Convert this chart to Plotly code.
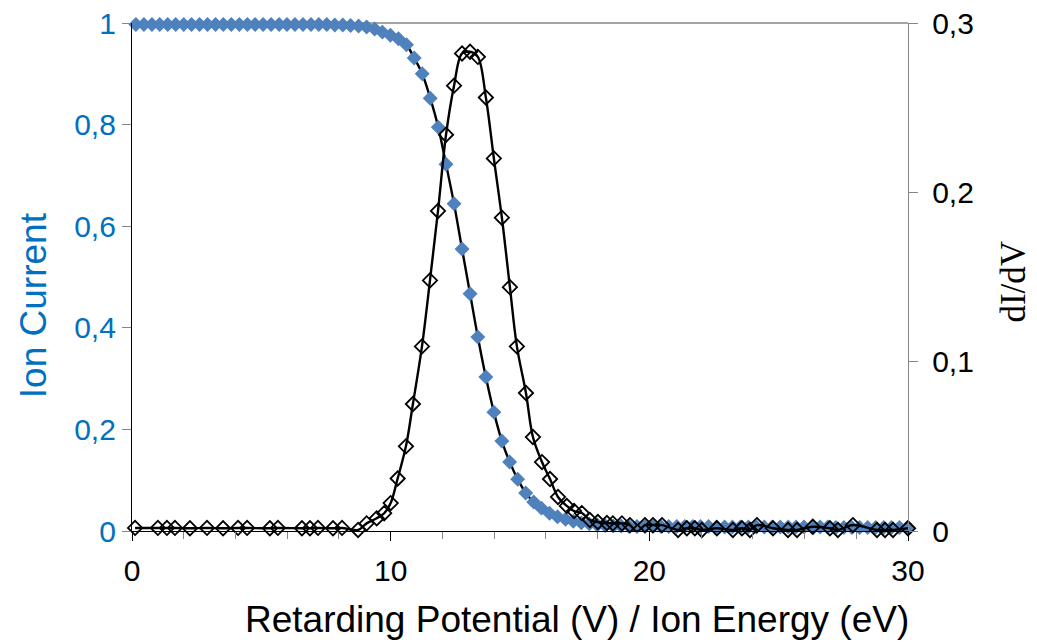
import plotly.graph_objects as go

# ---------------- data ----------------
ion_x = [0.15, 0.46, 0.77, 1.07, 1.38, 1.69, 2.00, 2.30, 2.61, 2.92,
         3.23, 3.53, 3.84, 4.15, 4.46, 4.76, 5.07, 5.38, 5.69, 5.99,
         6.30, 6.61, 6.92, 7.22, 7.53, 7.84, 8.15, 8.45, 8.76, 9.07,
         9.38, 9.68, 9.99, 10.30, 10.61, 10.91, 11.22, 11.53, 11.84, 12.14,
         12.45, 12.76, 13.07, 13.37, 13.68, 13.99, 14.30, 14.60, 14.91, 15.22,
         15.53, 15.83, 16.14, 16.45, 16.76, 17.06, 17.37, 17.68, 17.99, 18.29,
         18.60, 18.91, 19.22, 19.52, 19.83, 20.14, 20.45, 20.75, 21.06, 21.37,
         21.68, 21.98, 22.29, 22.60, 22.91, 23.21, 23.52, 23.83, 24.14, 24.44,
         24.75, 25.06, 25.37, 25.67, 25.98, 26.29, 26.60, 26.90, 27.21, 27.52,
         27.83, 28.13, 28.44, 28.75, 29.06, 29.36, 29.67, 29.98]
ion_current = [0.997, 0.997, 0.997, 0.997, 0.997, 0.997, 0.997, 0.997, 0.997, 0.997,
               0.997, 0.997, 0.997, 0.997, 0.997, 0.997, 0.997, 0.997, 0.997, 0.997,
               0.997, 0.997, 0.997, 0.997, 0.997, 0.996, 0.996, 0.995, 0.994, 0.992,
               0.988, 0.982, 0.976, 0.969, 0.957, 0.931, 0.900, 0.852, 0.795, 0.722,
               0.644, 0.555, 0.467, 0.382, 0.303, 0.234, 0.177, 0.136, 0.102, 0.075,
               0.057, 0.045, 0.035, 0.028, 0.023, 0.019, 0.016, 0.014, 0.012, 0.011,
               0.010, 0.010, 0.009, 0.009, 0.009, 0.009, 0.009, 0.009, 0.009, 0.009,
               0.009, 0.009, 0.009, 0.008, 0.008, 0.008, 0.008, 0.008, 0.008, 0.008,
               0.008, 0.008, 0.008, 0.008, 0.008, 0.008, 0.008, 0.008, 0.007, 0.007,
               0.007, 0.007, 0.007, 0.007, 0.007, 0.007, 0.007, 0.007]

didv_x = [0.12, 1.00, 1.35, 1.66, 2.24, 2.90, 3.52, 4.10, 4.45, 5.33,
          5.64, 6.57, 6.88, 7.19, 7.77, 8.12, 8.74, 9.07, 9.46, 9.75,
          10.00, 10.27, 10.59, 10.86, 11.21, 11.52, 11.83, 12.14, 12.45, 12.76,
          13.07, 13.37, 13.68, 13.99, 14.30, 14.61, 14.88, 15.23, 15.50, 15.85,
          16.16, 16.47, 16.81, 17.09, 17.39, 17.70, 18.01, 18.36, 18.59, 18.94,
          19.25, 19.52, 19.83, 20.14, 20.49, 21.11, 21.45, 21.76, 22.03, 22.61,
          23.23, 23.58, 23.89, 24.16, 24.78, 25.36, 25.71, 26.32, 26.98, 27.29,
          27.87, 28.80, 29.11, 29.42, 30.00]
didv = [0.0018, 0.0018, 0.0018, 0.0018, 0.0016, 0.0018, 0.0016, 0.0018, 0.0018, 0.0016,
        0.0018, 0.0016, 0.0016, 0.0018, 0.0016, 0.0018, 0.0006, 0.0045, 0.0075, 0.0105,
        0.0165, 0.031, 0.050, 0.075, 0.109, 0.148, 0.189, 0.234, 0.263, 0.282,
        0.283, 0.280, 0.256, 0.220, 0.185, 0.144, 0.109, 0.0815, 0.0555, 0.0407,
        0.0307, 0.0201, 0.0148, 0.0118, 0.0106, 0.0065, 0.0053, 0.0047, 0.0045, 0.0045,
        0.0035, -0.0004, 0.0035, 0.0035, 0.0035, 0.0006, 0.0016, 0.0016, 0.0006, 0.0016,
        0.0006, 0.0016, 0.0006, 0.0035, 0.0016, 0.0006, 0.0006, 0.0025, 0.0016, 0.0006,
        0.0035, 0.0006, 0.0006, 0.0006, 0.0016]

x_tick_vals = [0, 10, 20, 30]
y1_tick_vals = [0, 0.2, 0.4, 0.6, 0.8, 1]
y2_tick_vals = [0, 0.1, 0.2, 0.3]

x_title = "Retarding Potential (V) / Ion Energy (eV)"
y1_title = "Ion Current"
y2_title = "dI/dV"

BLUE = "#4F81BD"
LABEL_BLUE = "#0070C0"
GRAY = "#868686"
FONT = "Liberation Sans, Arial, sans-serif"
TICK_SIZE = 30
TITLE_SIZE = 37

fig = go.Figure()

# fit line through ion current points
fig.add_trace(go.Scatter(x=ion_x, y=ion_current, mode="lines",
                         line=dict(color="black", width=2.4, shape="spline"),
                         cliponaxis=False, showlegend=False, yaxis="y"))
# dI/dV line
fig.add_trace(go.Scatter(x=didv_x, y=didv, mode="lines",
                         line=dict(color="black", width=2.4, shape="spline"),
                         cliponaxis=False, showlegend=False, yaxis="y2"))
# ion current markers
fig.add_trace(go.Scatter(x=ion_x, y=ion_current, mode="markers",
                         marker=dict(symbol="diamond", size=11.5, color=BLUE,
                                     line=dict(width=0)),
                         cliponaxis=False, showlegend=False, yaxis="y"))
# dI/dV markers
fig.add_trace(go.Scatter(x=didv_x, y=didv, mode="markers",
                         marker=dict(symbol="diamond-open", size=11, color="black",
                                     line=dict(width=1.8, color="black")),
                         cliponaxis=False, showlegend=False, yaxis="y2"))

fig.update_layout(
    width=1037, height=642,
    margin=dict(l=132, r=129, t=23, b=111, autoexpand=False),
    paper_bgcolor="white", plot_bgcolor="white",
    separators=",.",
    font=dict(family=FONT, size=TICK_SIZE, color="black"),
    xaxis=dict(range=[0, 30], tickvals=x_tick_vals, showgrid=False, zeroline=False,
               automargin=False,
               showline=True, linecolor="black", linewidth=1.3,
               ticks="outside", ticklen=9, tickcolor="black", tickwidth=1.3,
               ticklabelstandoff=4,
               minor=dict(dtick=2, ticks="outside", ticklen=7, tickcolor=GRAY, tickwidth=1),
               tickfont=dict(size=TICK_SIZE, color="black")),
    yaxis=dict(range=[0, 1], tickvals=y1_tick_vals, showgrid=False, zeroline=False,
               automargin=False,
               showline=True, linecolor="black", linewidth=1.3,
               ticks="outside", ticklen=9, tickcolor=GRAY, tickwidth=1.3,
               ticklabelstandoff=0,
               tickfont=dict(size=TICK_SIZE, color=LABEL_BLUE)),
    yaxis2=dict(range=[0, 0.3], tickvals=y2_tick_vals, overlaying="y", side="right",
                showgrid=False, zeroline=False, automargin=False,
                showline=True, linecolor=GRAY, linewidth=1.3,
                ticks="outside", ticklen=9, tickcolor=GRAY, tickwidth=1.3,
                ticklabelstandoff=8,
                tickfont=dict(size=TICK_SIZE, color="black")),
    shapes=[dict(type="line", xref="paper", yref="paper", x0=0, x1=1, y0=1, y1=1,
                 line=dict(color=GRAY, width=1.3), layer="below")],
    annotations=[
        dict(text=x_title, xref="paper", yref="paper", x=0.573, y=-0.175,
             xanchor="center", yanchor="middle", showarrow=False,
             font=dict(family=FONT, size=TITLE_SIZE, color="black")),
        dict(text=y1_title, xref="paper", yref="paper", x=-0.126, y=0.445,
             xanchor="center", yanchor="middle", showarrow=False, textangle=-90,
             font=dict(family=FONT, size=TITLE_SIZE, color=LABEL_BLUE)),
        dict(text=y2_title, xref="paper", yref="paper", x=1.136, y=0.49,
             xanchor="center", yanchor="middle", showarrow=False, textangle=-90,
             font=dict(family="Liberation Serif, Times New Roman, serif", size=35, color="black")),
    ],
)

fig.write_html("out.html")
